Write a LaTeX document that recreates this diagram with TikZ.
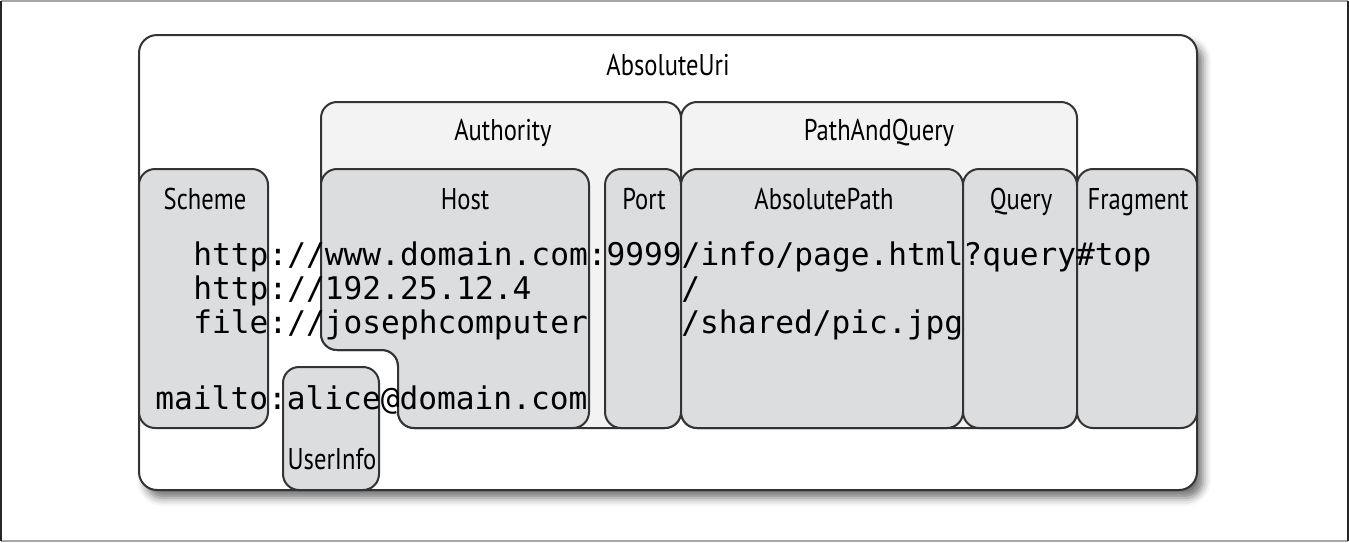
\documentclass[tikz,border=0pt]{standalone}
\usepackage{fontspec}
\usetikzlibrary{shadows.blur}
\newfontfamily\partfont[FakeStretch=0.82]{PT Sans}
\newfontfamily\urifont{DejaVu Sans Mono}
\definecolor{partgray}{HTML}{DCDDDF}
\definecolor{outergray}{HTML}{F3F3F3}
\definecolor{edgegray}{HTML}{333333}
\tikzset{
  part/.style={draw=edgegray, line width=1pt, rounded corners=8pt},
  subpart/.style={part, fill=partgray},
  partname/.style={inner sep=0pt, anchor=base, font=\partfont\fontsize{15pt}{18pt}\selectfont},
  uritext/.style={inner sep=0pt, anchor=base west, font=\urifont\fontsize{15.6pt}{18pt}\selectfont}
}
\begin{document}
\begin{tikzpicture}[x=0.5pt,y=-0.5pt]
  \useasboundingbox (0,0) rectangle (1349,542);

  % Frame
  \draw[gray!70, line width=0.8pt] (1,1) -- (1348,1);
  \draw[gray!70, line width=0.8pt] (1,541) -- (1348,541);
  \draw[black!85, line width=0.8pt] (1,1) -- (1,541);
  \draw[black!85, line width=0.8pt] (1348,1) -- (1348,541);

  % AbsoluteUri
  \draw[part, fill=white, rounded corners=9pt,
    blur shadow={shadow xshift=3pt, shadow yshift=-4pt, shadow blur radius=4pt, shadow opacity=55}]
    (139,35) rectangle (1197,490);

  % Authority and PathAndQuery
  \draw[part, fill=outergray]
    (321,102) -- (681,102) -- (681,428) -- (398,428) -- (398,350) -- (321,350) -- cycle;
  \draw[part, fill=outergray] (681,102) rectangle (1077,428);

  % Lower parts
  \draw[subpart] (139,169) rectangle (268,428);
  \draw[subpart]
    (321,169) -- (589,169) -- (589,428) -- (398,428) -- (398,350) -- (321,350) -- cycle;
  \draw[subpart] (605,169) rectangle (681,428);
  \draw[subpart] (681,169) rectangle (963,428);
  \draw[subpart] (963,169) rectangle (1077,428);
  \draw[subpart] (1077,169) rectangle (1197,428);
  \draw[subpart] (283,367) rectangle (379,490);

  % Names
  \node[partname] (absuri) at (668,75) {AbsoluteUri};
  \node[partname] (authority) at (503,140) {Authority};
  \node[partname] (pathquery) at (879,140) {PathAndQuery};
  \node[partname] (scheme) at (205,209) {Scheme};
  \node[partname] (host) at (465,209) {Host};
  \node[partname] (port) at (644,209) {Port};
  \node[partname] (abspath) at (824,209) {AbsolutePath};
  \node[partname] (query) at (1021,209) {Query};
  \node[partname] (fragment) at (1138,209) {Fragment};
  \node[partname] (userinfo) at (332,469) {UserInfo};

  % Example URIs
  \node[uritext] (uriA) at (193,265) {http://www.domain.com:9999/info/page.html?query\#top};
  \node[uritext] (uriB) at (193,299) {http://192.25.12.4};
  \node[uritext] (uriBpath) at (681,299) {/};
  \node[uritext] (uriC) at (193,333) {file://josephcomputer};
  \node[uritext] (uriCpath) at (681,333) {/shared/pic.jpg};
  \node[uritext] (uriD) at (155,409) {mailto:alice@domain.com};
\end{tikzpicture}
\end{document}
